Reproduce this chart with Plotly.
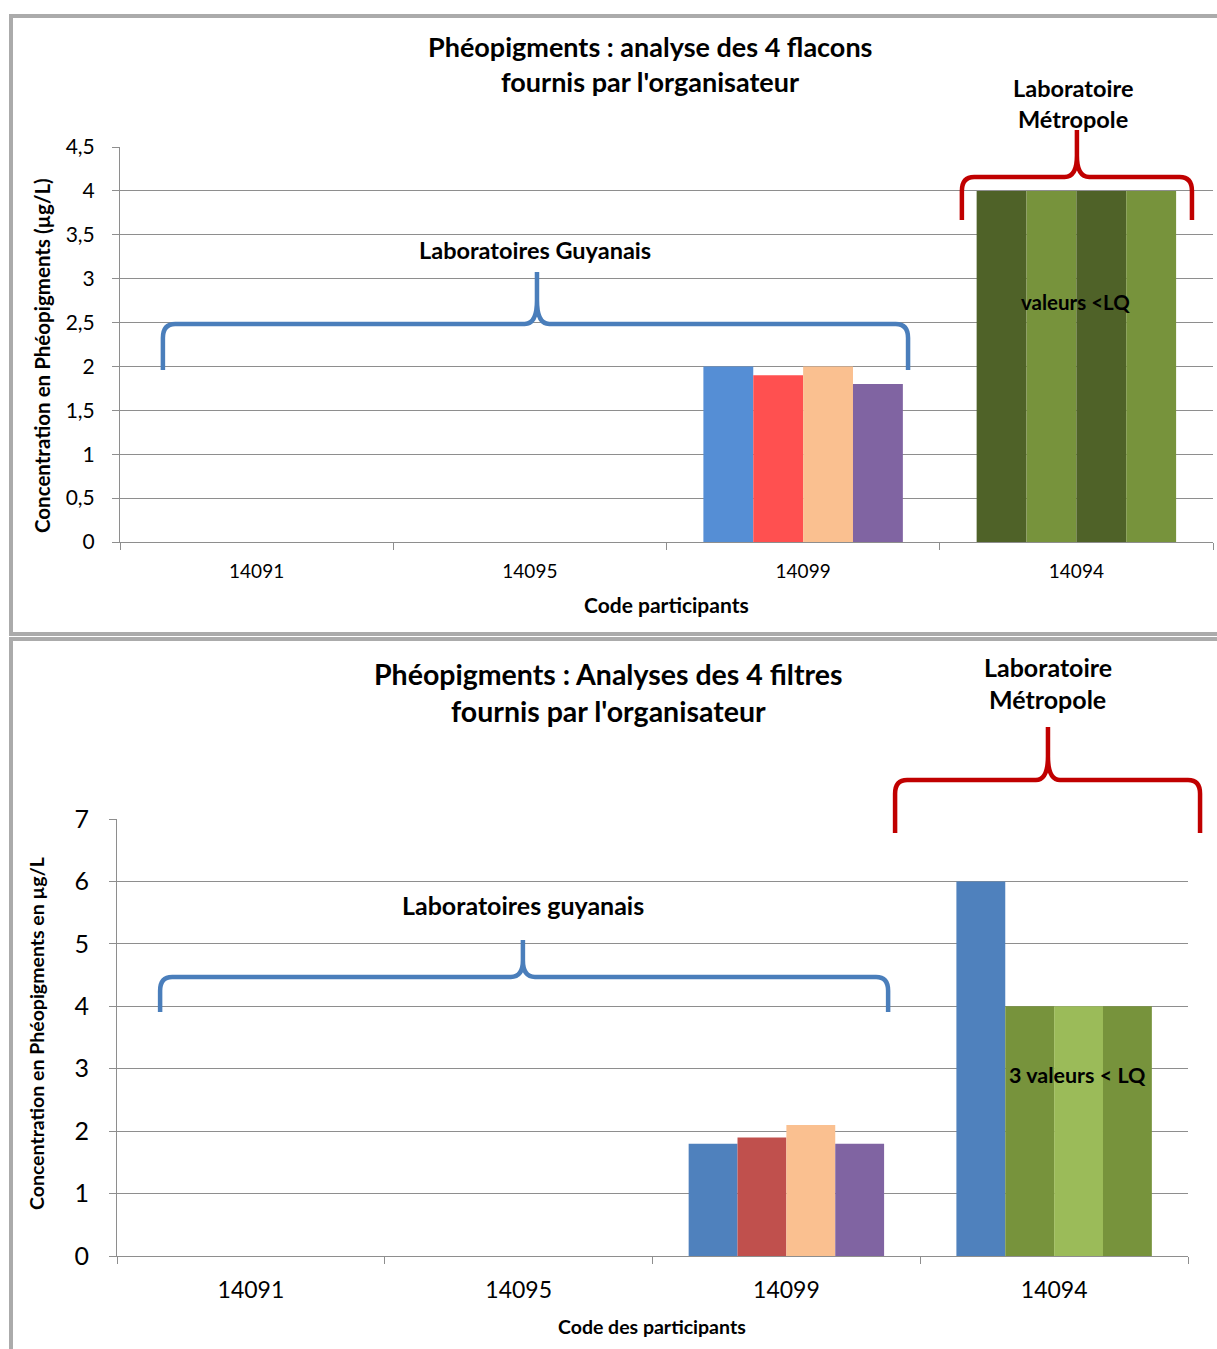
import plotly.graph_objects as go

# ---- data ----------------------------------------------------------------
categories = ["14091", "14095", "14099", "14094"]

# Flacons (top chart): four vials per participant
flacons_1 = [None, None, 2.0, 4.0]
flacons_2 = [None, None, 1.9, 4.0]
flacons_3 = [None, None, 2.0, 4.0]
flacons_4 = [None, None, 1.8, 4.0]

# Filtres (bottom chart): four filters per participant
filtres_1 = [None, None, 1.8, 6.0]
filtres_2 = [None, None, 1.9, 4.0]
filtres_3 = [None, None, 2.1, 4.0]
filtres_4 = [None, None, 1.8, 4.0]

y_ticks_top = [0, 0.5, 1, 1.5, 2, 2.5, 3, 3.5, 4, 4.5]
y_ticks_bottom = [0, 1, 2, 3, 4, 5, 6, 7]

# ---- styling -------------------------------------------------------------
W, H = 1217, 1349
FONT = "Lato"
GRID = "#8E8E8E"

top_colors = [
    ["#558ED5", "#558ED5", "#558ED5", "#4F6228"],
    ["#FF5050", "#FF5050", "#FF5050", "#77933C"],
    ["#FAC090", "#FAC090", "#FAC090", "#4F6228"],
    ["#8064A2", "#8064A2", "#8064A2", "#77933C"],
]
bottom_colors = [
    ["#4F81BD", "#4F81BD", "#4F81BD", "#4F81BD"],
    ["#C0504D", "#C0504D", "#C0504D", "#77933C"],
    ["#FAC090", "#FAC090", "#FAC090", "#9BBB59"],
    ["#8064A2", "#8064A2", "#8064A2", "#77933C"],
]

X_RANGE = [-0.5, 3.5]
Y_RANGE_TOP = [0, 4.5]
Y_RANGE_BOTTOM = [0, 7]


def px(x):
    return x / W


def py(y):
    return 1 - y / H


def fx(v):
    return (v - X_RANGE[0]) / (X_RANGE[1] - X_RANGE[0])


def fy(v, rng):
    return (v - rng[0]) / (rng[1] - rng[0])


fig = go.Figure()

xpos = list(range(len(categories)))

for i, (vals, cols) in enumerate(zip([flacons_1, flacons_2, flacons_3, flacons_4], top_colors)):
    fig.add_trace(go.Bar(x=xpos, y=vals, marker=dict(color=cols, line=dict(width=0)),
                         offsetgroup=str(i), xaxis="x", yaxis="y", showlegend=False))

for i, (vals, cols) in enumerate(zip([filtres_1, filtres_2, filtres_3, filtres_4], bottom_colors)):
    fig.add_trace(go.Bar(x=xpos, y=vals, marker=dict(color=cols, line=dict(width=0)),
                         offsetgroup=str(i), xaxis="x2", yaxis="y2", showlegend=False))


def xaxis_style(domain, anchor, size, standoff_len):
    return dict(
        domain=domain, anchor=anchor, range=X_RANGE, fixedrange=True,
        tickmode="array", tickvals=xpos, ticktext=categories,
        ticks="outside", ticklen=standoff_len, tickcolor="rgba(0,0,0,0)",
        showgrid=False, zeroline=False, showline=True, linecolor=GRID, linewidth=1,
        tickfont=dict(family=FONT, size=size, color="#000000"),
        minor=dict(tickmode="array", tickvals=[-0.5, 0.5, 1.5, 2.5, 3.5],
                   ticks="outside", ticklen=7, tickcolor=GRID, tickwidth=1),
        automargin=False,
    )


def yaxis_style(domain, anchor, rng, tickvals, size, standoff):
    return dict(
        domain=domain, anchor=anchor, range=rng, fixedrange=True,
        tickmode="array", tickvals=tickvals,
        ticks="outside", ticklen=7, tickcolor=GRID, tickwidth=1,
        showgrid=True, gridcolor=GRID, gridwidth=1.3,
        zeroline=False, showline=True, linecolor=GRID, linewidth=1,
        tickfont=dict(family=FONT, size=size, color="#000000"),
        ticklabelstandoff=standoff,
        automargin=False,
    )


top_x_dom = [px(120), px(1213)]
top_y_dom = [py(542), py(147)]
bot_x_dom = [px(117), px(1188)]
bot_y_dom = [py(1256), py(819)]

fig.update_layout(
    width=W, height=H, autosize=False,
    margin=dict(l=0, r=0, t=0, b=0, pad=0, autoexpand=False),
    paper_bgcolor="white", plot_bgcolor="white",
    separators=", ",
    barmode="group", bargap=0.27, bargroupgap=0,
    xaxis=xaxis_style(top_x_dom, "y", 19, 12),
    yaxis=yaxis_style(top_y_dom, "x", Y_RANGE_TOP, y_ticks_top, 21, 13),
    xaxis2=xaxis_style(bot_x_dom, "y2", 23, 13),
    yaxis2=yaxis_style(bot_y_dom, "x2", Y_RANGE_BOTTOM, y_ticks_bottom, 25, 15),
)


# ---- curly braces grouping the laboratories ------------------------------
def brace_path(x0, x1, xc, yh, ytip, ypeak, rx, ry, yrng):
    ry_c = (ypeak - yh) * 0.45
    pts = [
        f"M {fx(x0)},{fy(ytip, yrng)}",
        f"L {fx(x0)},{fy(yh - ry, yrng)}",
        f"Q {fx(x0)},{fy(yh, yrng)} {fx(x0 + rx)},{fy(yh, yrng)}",
        f"L {fx(xc - rx)},{fy(yh, yrng)}",
        f"Q {fx(xc)},{fy(yh, yrng)} {fx(xc)},{fy(yh + ry_c, yrng)}",
        f"L {fx(xc)},{fy(ypeak, yrng)}",
        f"L {fx(xc)},{fy(yh + ry_c, yrng)}",
        f"Q {fx(xc)},{fy(yh, yrng)} {fx(xc + rx)},{fy(yh, yrng)}",
        f"L {fx(x1 - rx)},{fy(yh, yrng)}",
        f"Q {fx(x1)},{fy(yh, yrng)} {fx(x1)},{fy(yh - ry, yrng)}",
        f"L {fx(x1)},{fy(ytip, yrng)}",
    ]
    return " ".join(pts)


braces = [
    # (xaxis, yaxis, yrange, x0, x1, xc, yh, ytip, ypeak, rx, ry, color)
    ("x", "y", Y_RANGE_TOP, -0.343, 2.384, 1.026, 2.483, 1.96, 3.076, 0.045, 0.16, "#4A7EBB"),
    ("x", "y", Y_RANGE_TOP, 2.581, 3.423, 3.002, 4.158, 3.668, 4.694, 0.045, 0.16, "#C00000"),
    ("x2", "y2", Y_RANGE_BOTTOM, -0.339, 2.380, 1.016, 4.469, 3.908, 5.062, 0.045, 0.22, "#4A7EBB"),
    ("x2", "y2", Y_RANGE_BOTTOM, 2.406, 3.545, 2.977, 7.625, 6.776, 8.474, 0.045, 0.22, "#C00000"),
]
for xa, ya, yr, x0, x1, xc, yh, ytip, ypeak, rx, ry, col in braces:
    fig.add_shape(type="path", xref=f"{xa} domain", yref=f"{ya} domain",
                  path=brace_path(x0, x1, xc, yh, ytip, ypeak, rx, ry, yr),
                  line=dict(color=col, width=4.5), fillcolor="rgba(0,0,0,0)", layer="above")

# ---- panel frames --------------------------------------------------------
fig.add_shape(type="rect", xref="paper", yref="paper",
              x0=px(11), x1=px(1230), y0=py(634), y1=py(16),
              line=dict(color="#ABABAB", width=4), fillcolor="rgba(0,0,0,0)")
fig.add_shape(type="rect", xref="paper", yref="paper",
              x0=px(11), x1=px(1230), y0=py(1360), y1=py(639),
              line=dict(color="#ABABAB", width=4), fillcolor="rgba(0,0,0,0)")


# ---- texts ---------------------------------------------------------------
def label(text, x, y, size, xref="paper", yref="paper", angle=0):
    fig.add_annotation(text=text, x=x, y=y, xref=xref, yref=yref, showarrow=False,
                       xanchor="center", yanchor="middle", textangle=angle,
                       font=dict(family=FONT, size=size, color="#000000", weight="bold"))


def data_label(text, x, y, size, xa, ya, yrng):
    # position given in data units, placed relative to the axis domain
    label(text, fx(x), fy(y, yrng), size, f"{xa} domain", f"{ya} domain")


# titles
label("Phéopigments : analyse des 4 flacons", px(650), py(46), 27)
label("fournis par l'organisateur", px(650), py(82), 27)
label("Phéopigments : Analyses des 4 filtres", px(608), py(674), 28.5)
label("fournis par l'organisateur", px(608), py(711), 28.5)

# axis titles
label("Code participants", px(666), py(604), 21)
label("Code des participants", px(652), py(1326), 19.5)
label("Concentration en Phéopigments (µg/L)", px(42), py(356), 20.5, angle=-90)
label("Concentration en Phéopigments en µg/L", px(36), py(1034), 19.5, angle=-90)

# group labels
data_label("Laboratoires Guyanais", 1.02, 3.33, 23.5, "x", "y", Y_RANGE_TOP)
data_label("Laboratoire", 2.988, 5.17, 23.5, "x", "y", Y_RANGE_TOP)
data_label("Métropole", 2.988, 4.82, 23.5, "x", "y", Y_RANGE_TOP)
data_label("valeurs <LQ", 2.995, 2.734, 20.5, "x", "y", Y_RANGE_TOP)

data_label("Laboratoires guyanais", 1.016, 5.62, 25, "x2", "y2", Y_RANGE_BOTTOM)
data_label("Laboratoire", 2.977, 9.43, 25, "x2", "y2", Y_RANGE_BOTTOM)
data_label("Métropole", 2.977, 8.92, 25, "x2", "y2", Y_RANGE_BOTTOM)
data_label("3 valeurs < LQ", 3.089, 2.90, 21.5, "x2", "y2", Y_RANGE_BOTTOM)

fig.write_html("out.html")
